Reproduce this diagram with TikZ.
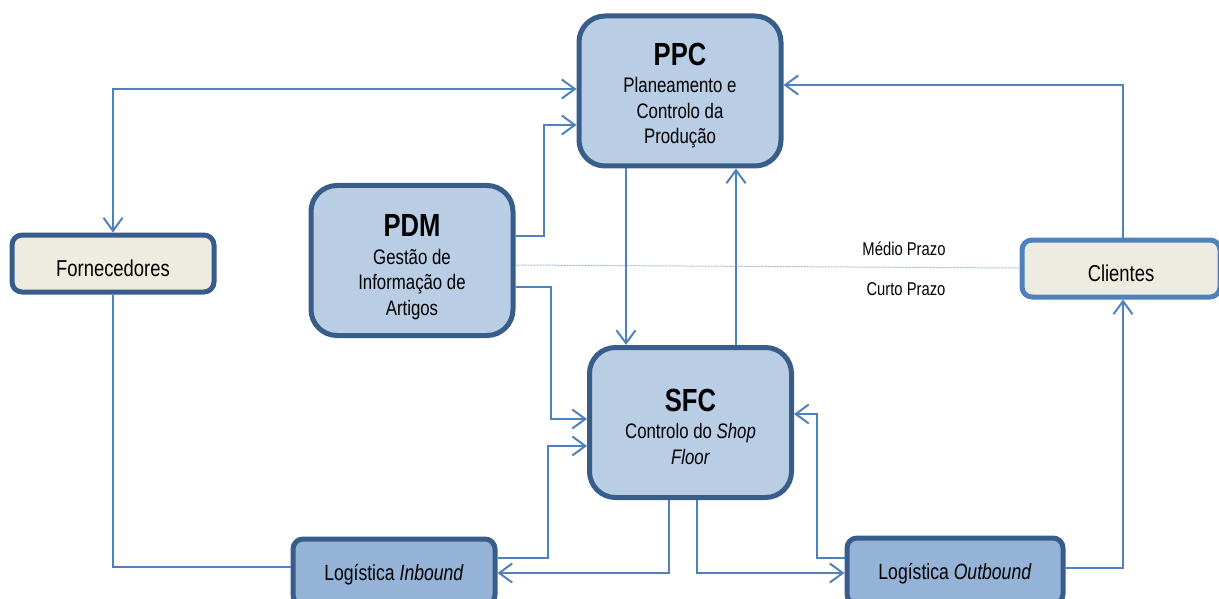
\documentclass[tikz,border=0pt]{standalone}
\usepackage{fontspec}
\setmainfont{Liberation Sans}[FakeStretch=0.8]
\usetikzlibrary{arrows.meta}

\definecolor{edgedark}{RGB}{56,93,138}
\definecolor{linkblue}{RGB}{79,129,189}
\definecolor{panelfill}{RGB}{185,205,229}
\definecolor{logfill}{RGB}{149,179,215}
\definecolor{partyfill}{RGB}{238,236,225}
\definecolor{horizon}{RGB}{155,184,220}

% title line of a system box; the argument is the height of its strut
\newcommand{\boxtitle}[2]{{\fontsize{32}{34}\selectfont\bfseries\rule{0pt}{#1}#2}}
\newcommand{\boxbody}{\fontsize{21}{25.5}\selectfont}

\tikzset{
  system/.style={draw=edgedark, line width=5pt, fill=panelfill, rounded corners=26pt,
    minimum width=202pt, minimum height=150pt, align=center, inner sep=0pt, font=\boxbody},
  logbox/.style={draw=edgedark, line width=5pt, fill=logfill, rounded corners=10pt,
    minimum width=202pt, minimum height=66pt, inner sep=0pt, font=\fontsize{22}{26}\selectfont,
    text height=17.8pt, text depth=0pt},
  party/.style={draw=edgedark, line width=5pt, fill=partyfill, rounded corners=10pt,
    minimum width=202pt, minimum height=57pt, inner sep=0pt, font=\fontsize{23}{27}\selectfont,
    text height=25.6pt, text depth=0pt},
  link/.style={draw=linkblue, line width=2pt},
  tip/.style={-{Straight Barb[length=13pt,width=19pt,line width=2pt]}},
  bothtips/.style={{Straight Barb[length=13pt,width=19pt,line width=2pt]}-{Straight Barb[length=13pt,width=19pt,line width=2pt]}},
  horizonlabel/.style={font=\fontsize{18.5}{20}\selectfont, inner sep=0pt},
}

\begin{document}
\begin{tikzpicture}[x=1pt,y=-1pt]
\useasboundingbox (0,0) rectangle (1219,599);
\clip (0,0) rectangle (1219,599);

% planning and control systems
\node[system] (PPC) at (680,91) {\boxtitle{31pt}{PPC}\\[2pt]Planeamento e\\Controlo da\\Produção};
\node[system] (PDM) at (412,260.5) {\boxtitle{35.5pt}{PDM}\\[2pt]Gestão de\\Informação de\\Artigos};
\node[system] (SFC) at (690.5,422.5) {\boxtitle{31pt}{SFC}\\[2pt]Controlo do \textit{Shop}\\\textit{Floor}};

% external parties
\node[party] (Forn) at (113,263.5) {Fornecedores};
\node[party, draw=linkblue, minimum width=198pt] (Cli) at (1121,268.5) {Clientes};

% logistics
\node[logbox] (Inb) at (394,572) {Logística \textit{Inbound}};
\node[logbox, minimum width=216pt] (Outb) at (955,571) {Logística \textit{Outbound}};

% time horizons
\draw[draw=horizon, line width=1pt, dash pattern=on 2pt off 1pt]
  ([yshift=-4.5pt]PDM.east) -- ([yshift=0.5pt]Cli.west);
\node[horizonlabel] (medio) at (904,249) {Médio Prazo};
\node[horizonlabel] (curto) at (906,289) {Curto Prazo};

% information and material flows
\draw[link, bothtips] (Forn.north) |- ([yshift=2pt]PPC.west);
\draw[link, tip] ([yshift=24.5pt]PDM.east) -- ++(28,0) |- ([yshift=-34pt]PPC.west);
\draw[link, tip] ([yshift=-26.5pt]PDM.east) -- ++(35,0) |- ([yshift=3.5pt]SFC.west);
\draw[link, tip] ([xshift=-54pt]PPC.south) -- ([xshift=-54pt]PPC.south |- SFC.north);
\draw[link, tip] ([xshift=45.5pt]SFC.north) -- ([xshift=45.5pt]SFC.north |- PPC.south);
\draw[link, tip] ([xshift=2pt]Cli.north) |- ([yshift=6pt]PPC.east);
\draw[link] (Forn.south) |- ([yshift=5pt]Inb.west);
\draw[link, tip] ([yshift=14pt]Inb.east) -- ++(50,0) |- ([yshift=-23.5pt]SFC.west);
\draw[link, tip] ([xshift=-21.5pt]SFC.south) |- ([yshift=-1pt]Inb.east);
\draw[link, tip] ([xshift=6.5pt]SFC.south) |- ([yshift=-2pt]Outb.west);
\draw[link, tip] ([yshift=13pt]Outb.west) -- ++(-28,0) |- ([yshift=8.5pt]SFC.east);
\draw[link, tip] ([yshift=3pt]Outb.east) -| ([xshift=2pt]Cli.south);
\end{tikzpicture}
\end{document}
